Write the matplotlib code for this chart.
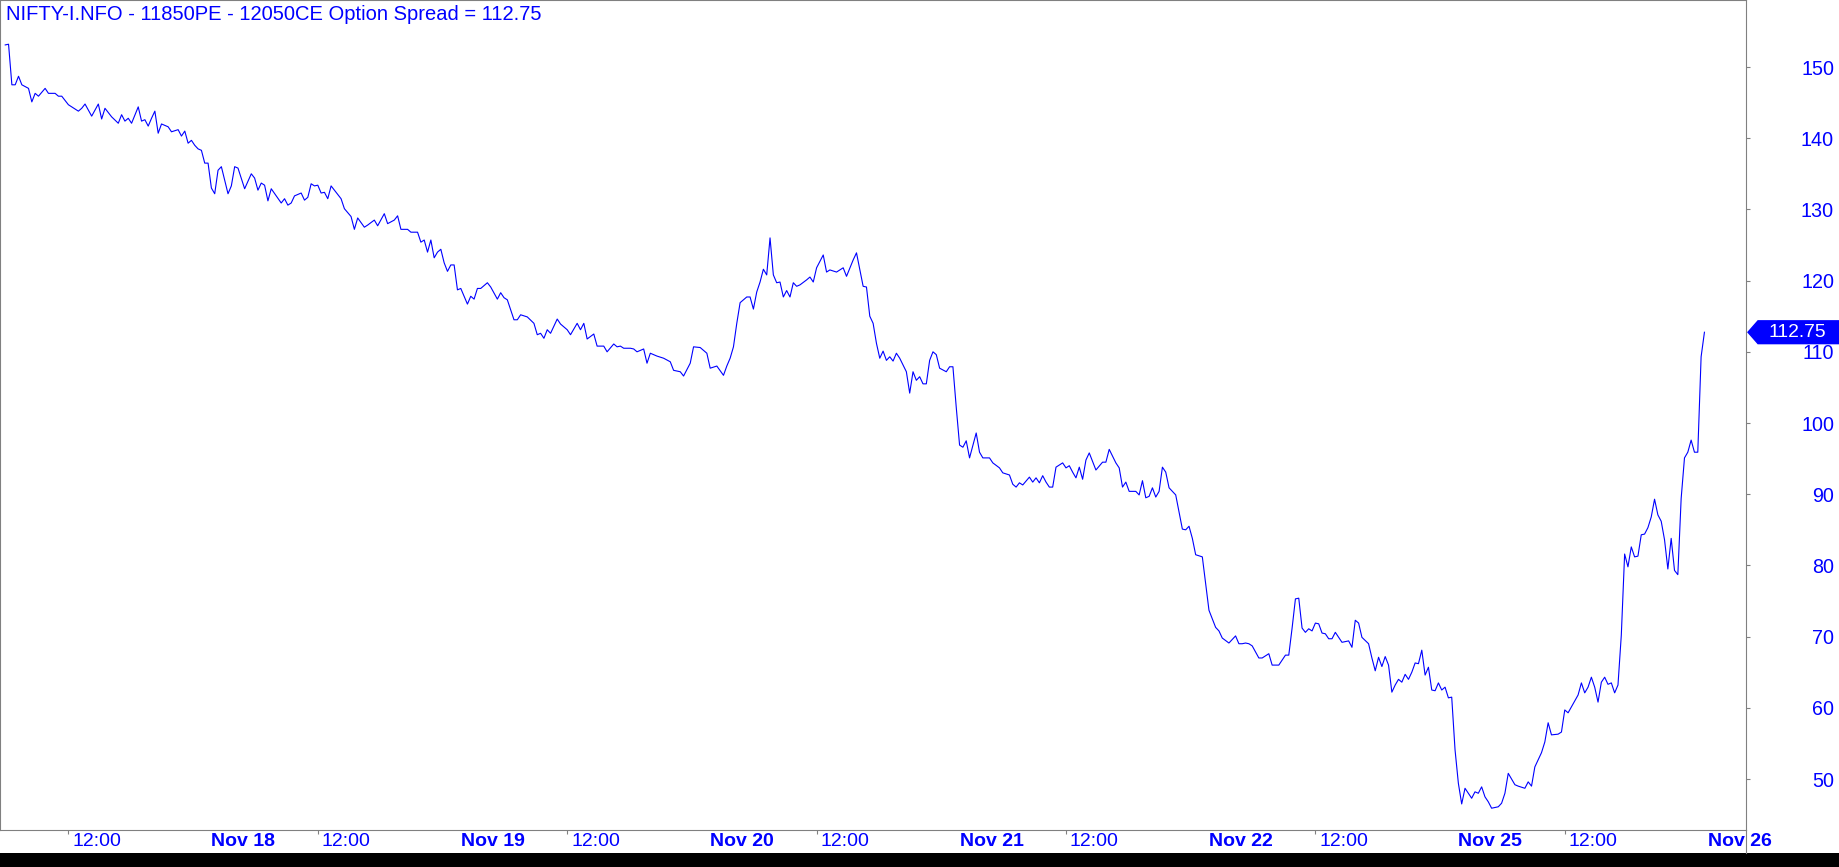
import matplotlib
matplotlib.use("Agg")
import matplotlib.pyplot as plt
import matplotlib.transforms as mtransforms
from matplotlib.patches import Polygon, Rectangle
from matplotlib.lines import Line2D

plt.rcParams['font.family'] = ['Liberation Sans', 'DejaVu Sans']

title = "NIFTY-I.NFO - 11850PE - 12050CE Option Spread"
last_value = 112.75

# 5-minute bar number counted from the Nov 15 session open (75 bars per session)
bar = [
    13, 14, 15, 16, 17, 18, 20, 21, 22, 23, 25, 26, 28, 29, 30, 32, 35, 36, 37, 39,
    41, 42, 43, 45, 47, 48, 49, 50, 51, 53, 54, 55, 56, 57, 58, 59, 60, 62, 63, 65,
    66, 67, 68, 69, 70, 71, 72, 73, 74, 75, 76, 77, 78, 80, 81, 82, 83, 85, 87, 88,
    89, 90, 91, 92, 93, 96, 97, 98, 99, 100, 102, 103, 104, 105, 106, 107, 108, 109, 110, 111,
    112, 114, 115, 117, 118, 119, 121, 122, 124, 125, 127, 128, 130, 131, 132, 134, 135, 137, 138, 139,
    140, 141, 142, 143, 144, 145, 146, 147, 148, 149, 150, 151, 152, 153, 154, 155, 156, 158, 159, 161,
    162, 163, 164, 166, 167, 168, 170, 172, 173, 174, 175, 176, 177, 179, 180, 182, 183, 185, 186, 187,
    188, 190, 191, 193, 194, 196, 197, 198, 199, 201, 202, 203, 205, 206, 207, 209, 211, 213, 214, 216,
    217, 219, 220, 222, 224, 225, 227, 229, 230, 231, 232, 233, 234, 235, 236, 237, 238, 239, 240, 241,
    242, 243, 244, 245, 246, 247, 248, 249, 250, 251, 252, 254, 255, 256, 257, 259, 260, 261, 263, 265,
    266, 268, 269, 271, 272, 273, 274, 275, 276, 277, 278, 279, 280, 281, 282, 284, 285, 286, 287, 288,
    289, 290, 291, 292, 293, 294, 296, 297, 298, 299, 300, 301, 302, 303, 305, 306, 307, 309, 310, 312,
    313, 315, 316, 317, 318, 319, 321, 322, 323, 324, 325, 326, 327, 328, 329, 331, 332, 333, 334, 335,
    336, 337, 338, 339, 341, 343, 344, 345, 347, 348, 349, 350, 351, 353, 354, 355, 356, 357, 358, 359,
    360, 361, 362, 363, 365, 366, 367, 368, 369, 370, 371, 373, 374, 375, 376, 377, 378, 379, 381, 383,
    384, 385, 386, 387, 388, 390, 391, 393, 394, 396, 397, 398, 399, 400, 401, 402, 403, 404, 405, 406,
    407, 408, 409, 410, 411, 412, 413, 415, 417, 418, 419, 420, 421, 423, 424, 425, 426, 427, 428, 429,
    430, 431, 432, 433, 434, 435, 436, 437, 438, 439, 440, 441, 442, 443, 444, 445, 446, 447, 448, 449,
    450, 451, 452, 454, 455, 456, 457, 458, 459, 460, 462, 463, 464, 465, 467, 468, 470, 471, 472, 473,
    475, 476, 477, 478, 480, 481, 482, 483, 486, 487, 488, 489, 490, 491, 492, 493, 494, 495, 496, 497,
    498, 499, 500, 501, 502, 503, 504, 505, 506, 507, 508, 509, 510, 511, 512, 513, 514, 515, 516, 517,
    518, 519, 520, 521, 522, 523, 524,
]
spread = [
    153.1, 153.2, 147.5, 147.5, 148.7, 147.5, 147.0, 145.1, 146.3, 145.9, 147.0, 146.3, 146.3, 145.9, 145.9, 144.7, 143.8, 144.2, 144.8, 143.1,
    144.8, 142.7, 144.2, 143.0, 142.1, 143.3, 142.4, 142.8, 142.1, 144.4, 142.4, 142.6, 141.7, 142.8, 143.8, 140.7, 142.0, 141.6, 140.9, 141.2,
    140.3, 141.0, 139.3, 139.7, 139.0, 138.5, 138.3, 136.5, 136.5, 133.0, 132.2, 135.5, 136.0, 132.2, 133.3, 136.0, 135.8, 132.9, 135.0, 134.4,
    132.7, 133.7, 133.4, 131.2, 132.9, 130.9, 131.5, 130.6, 130.9, 131.9, 132.3, 131.3, 131.7, 133.6, 133.3, 133.4, 132.3, 132.4, 131.5, 133.3,
    132.7, 131.5, 130.1, 129.0, 127.2, 128.8, 127.5, 127.8, 128.5, 127.7, 129.4, 128.0, 128.5, 129.1, 127.2, 127.2, 126.8, 126.8, 125.4, 125.7,
    124.0, 125.7, 123.2, 124.0, 124.4, 122.5, 121.3, 122.2, 122.2, 118.7, 118.9, 117.8, 116.7, 117.8, 117.4, 118.9, 118.9, 119.7, 119.1, 117.4,
    118.3, 117.6, 117.3, 114.5, 114.5, 115.2, 114.9, 114.0, 112.4, 112.6, 111.9, 113.1, 112.6, 114.6, 113.9, 113.1, 112.4, 114.0, 113.1, 114.0,
    111.8, 112.5, 110.8, 110.8, 110.0, 111.1, 110.7, 110.8, 110.5, 110.5, 110.4, 110.0, 110.4, 108.4, 109.8, 109.4, 109.1, 108.6, 107.4, 107.2,
    106.6, 108.4, 110.7, 110.6, 109.8, 107.7, 108.0, 106.7, 108.0, 109.1, 110.7, 114.0, 116.9, 117.3, 117.7, 117.7, 116.0, 118.4, 119.8, 121.6,
    120.8, 126.0, 120.8, 119.7, 119.8, 117.7, 118.6, 117.7, 119.7, 119.2, 119.4, 120.1, 120.5, 119.8, 121.8, 123.6, 121.2, 121.5, 121.2, 121.8,
    120.6, 122.9, 123.9, 119.2, 119.1, 115.0, 114.0, 111.2, 109.1, 110.1, 108.8, 109.3, 108.7, 109.8, 109.1, 107.2, 104.2, 107.2, 106.0, 106.5,
    105.5, 105.5, 108.8, 110.0, 109.6, 107.7, 107.2, 107.9, 107.9, 102.2, 96.9, 96.6, 97.5, 95.1, 98.6, 95.9, 95.1, 95.1, 94.4, 93.7,
    93.0, 92.7, 91.4, 91.0, 91.6, 91.3, 92.4, 91.7, 92.3, 91.6, 92.6, 91.7, 91.0, 91.0, 93.8, 94.4, 93.7, 94.0, 93.1, 92.3,
    93.8, 92.1, 94.8, 95.8, 93.4, 94.5, 94.5, 96.3, 94.4, 93.7, 91.0, 91.7, 90.4, 90.4, 89.9, 91.9, 89.5, 89.7, 90.9, 89.6,
    90.4, 93.8, 93.1, 90.9, 89.9, 87.5, 85.1, 85.0, 85.5, 83.8, 81.5, 81.2, 77.5, 73.7, 72.5, 71.3, 70.8, 69.8, 69.1, 70.1,
    69.0, 69.0, 69.1, 69.0, 68.7, 67.0, 67.0, 67.6, 66.0, 66.0, 66.7, 67.4, 67.4, 71.2, 75.3, 75.4, 71.2, 70.6, 71.1, 70.8,
    71.9, 71.8, 70.5, 70.4, 69.7, 69.7, 70.6, 69.2, 69.4, 68.5, 72.3, 71.9, 69.9, 69.0, 67.0, 65.2, 67.1, 65.8, 67.2, 66.0,
    62.2, 63.2, 64.0, 63.6, 64.7, 64.0, 65.0, 66.3, 66.2, 68.1, 64.6, 65.7, 62.5, 62.4, 63.5, 62.5, 62.9, 61.4, 61.5, 54.1,
    49.4, 46.5, 48.7, 47.3, 48.2, 48.0, 48.9, 47.5, 46.8, 45.9, 46.1, 46.6, 48.0, 50.8, 49.2, 49.0, 48.7, 49.6, 49.0, 51.7,
    53.7, 55.2, 57.9, 56.2, 56.3, 56.6, 59.7, 59.3, 61.8, 63.5, 62.1, 62.9, 64.3, 62.9, 60.8, 63.6, 64.3, 63.3, 63.5, 62.1,
    63.2, 70.2, 81.6, 79.8, 82.6, 81.2, 81.3, 84.3, 84.4, 85.3, 86.8, 89.3, 87.1, 86.2, 83.6, 79.5, 83.8, 79.3, 78.7, 89.4,
    95.1, 95.9, 97.6, 95.9, 95.9, 109.3, 112.75,
]

sessions = ["Nov 15", "Nov 18", "Nov 19", "Nov 20", "Nov 21", "Nov 22", "Nov 25", "Nov 26"]
bars_per_session = 75
noon_bar = (12 * 60 - (9 * 60 + 15)) // 5 - 1
y_ticks = list(range(50, 151, 10))

blue = '#0000ff'
grey = '#808080'

W, H = 1839, 867
fig = plt.figure(figsize=(W / 100, H / 100), dpi=100)
fig.patch.set_facecolor('white')
ax = fig.add_axes([0, 37 / H, 1746 / W, 830 / H])

ax.plot(bar, spread, color=blue, linewidth=0.8)

ax.set_xlim(11.43, 536.5)
ax.set_ylim(42.84, 159.41)

for s in ax.spines.values():
    s.set_color(grey)
    s.set_linewidth(0.8)

# y axis on the right
ax.yaxis.tick_right()
ax.set_yticks(y_ticks)
ax.tick_params(axis='y', direction='out', length=3, width=0.8, color=grey,
               labelcolor=blue, labelsize=14.2, pad=60.4)
plt.setp(ax.get_yticklabels(), ha='right')

# x axis: day starts and 12:00 marks
day_bars = [i * bars_per_session for i in range(1, len(sessions))]
noon_bars = [i * bars_per_session + noon_bar for i in range(len(sessions) - 1)]
ax.set_xticks(noon_bars)
ax.set_xticklabels([])
ax.tick_params(axis='x', direction='out', length=3, width=0.8, color=grey)

below = mtransforms.blended_transform_factory(ax.transData, ax.transAxes)
noon_tr = mtransforms.offset_copy(below, fig=fig, x=4, y=-12, units='dots')
day_tr = mtransforms.offset_copy(below, fig=fig, x=0, y=-12, units='dots')
for b in noon_bars:
    ax.text(b, 0, "12:00", transform=noon_tr, ha='left', va='center',
            color=blue, fontsize=14, clip_on=False)
for b, name in zip(day_bars, sessions[1:]):
    ax.text(b, 0, name, transform=day_tr, ha='left', va='center',
            color=blue, fontsize=14, fontweight='bold', clip_on=False)

# title
ax.text(6 / 1746, 1 - 14 / 830, f"{title} = {last_value}", transform=ax.transAxes,
        ha='left', va='center', color=blue, fontsize=14.5)

# last value tag on the price axis
tag_tr = mtransforms.blended_transform_factory(ax.transAxes, ax.transData)
half = 1.6
x0, x1, x2 = 1 + 2 / 1746, 1 + 12 / 1746, 1 + 95 / 1746
tag = Polygon([[x0, last_value], [x1, last_value + half], [x2, last_value + half],
               [x2, last_value - half], [x1, last_value - half]],
              closed=True, transform=tag_tr, facecolor=blue, edgecolor=blue,
              clip_on=False, zorder=5)
ax.add_patch(tag)
ax.text(1 + 51 / 1746, last_value, f"{last_value:.2f}", transform=tag_tr,
        ha='center', va='center', color='white', fontsize=13.9, zorder=6, clip_on=False)

# bottom black strip and price axis separator
fig.add_artist(Rectangle((0, 0), 1, 14 / H, transform=fig.transFigure,
                         facecolor='black', edgecolor='none'))
fig.add_artist(Line2D([1746 / W, 1746 / W], [14 / H, 37 / H], transform=fig.transFigure,
                      color=grey, linewidth=0.8))

fig.savefig("out.png", dpi=100, facecolor='white')
